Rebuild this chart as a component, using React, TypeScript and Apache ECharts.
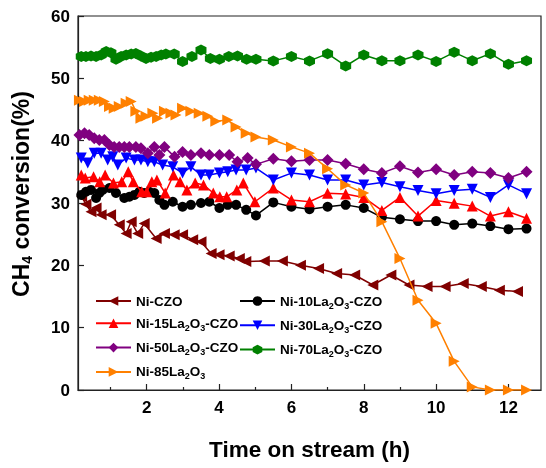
import React, { useEffect, useRef } from "react";
import * as echarts from "echarts";

const xTickLabels = [2, 4, 6, 8, 10, 12];
const xMinorTicks = [1, 3, 5, 7, 9, 11];

const seriesNames = [
  "Ni-CZO",
  "Ni-10La2O3-CZO",
  "Ni-15La2O3-CZO",
  "Ni-30La2O3-CZO",
  "Ni-50La2O3-CZO",
  "Ni-70La2O3-CZO",
  "Ni-85La2O3",
];

const late = [5.5, 6.0, 6.5, 7.0, 7.5, 8.0, 8.5, 9.0, 9.5, 10.0, 10.5, 11.0, 11.5, 12.0, 12.5];

const niCzoTime = [0.2, 0.32, 0.46, 0.6, 0.74, 1.0, 1.24, 1.43, 1.57, 1.75, 1.93, 2.26, 2.49, 2.76, 2.99, 3.27, 3.5, 3.78, 4.0, 4.28, 4.56, 4.74, 5.25, 5.75, 6.25, 6.75, 7.25, 7.75, 8.25, 8.75, 9.25, 9.75, 10.25, 10.75, 11.25, 11.75, 12.25];
const niCzoConv = [31.0, 29.8, 28.6, 29.2, 28.1, 28.1, 26.5, 25.1, 27.0, 25.1, 26.7, 24.3, 25.1, 24.9, 24.9, 24.1, 23.8, 21.9, 21.7, 21.5, 21.1, 20.6, 20.7, 20.7, 20.0, 19.5, 18.7, 18.45, 16.85, 18.45, 16.85, 16.6, 16.6, 17.1, 16.6, 16.0, 15.8];

const ni10Time = [0.19, 0.32, 0.46, 0.6, 0.69, 0.78, 0.97, 1.15, 1.38, 1.52, 1.66, 1.8, 1.93, 2.07, 2.21, 2.35, 2.49, 2.72, 2.99, 3.22, 3.5, 3.73, 4.01, 4.24, 4.47, 4.75, 5.02, ...late];
const ni10Conv = [31.3, 31.8, 32.1, 30.8, 31.6, 32.1, 32.4, 31.6, 30.8, 31.0, 31.3, 31.8, 31.6, 31.8, 31.6, 30.5, 29.7, 30.2, 29.4, 29.7, 30.0, 30.2, 29.2, 29.7, 29.7, 28.9, 28.0, 30.1, 29.4, 29.0, 29.4, 29.7, 29.2, 27.7, 27.4, 27.1, 27.1, 26.5, 26.7, 26.3, 25.8, 25.9];

const ni15Time = [0.19, 0.3, 0.53, 0.7, 0.85, 1.08, 1.31, 1.49, 1.63, 1.86, 2.0, 2.14, 2.28, 2.51, 2.74, 2.92, 3.11, 3.34, 3.57, 3.84, 4.02, 4.21, 4.49, 4.67, 4.99, ...late];
const ni15Conv = [34.5, 34.0, 34.2, 33.4, 34.5, 33.2, 33.4, 35.0, 33.4, 31.8, 31.8, 33.4, 33.7, 31.6, 34.5, 33.4, 32.1, 33.2, 32.9, 31.6, 31.0, 31.0, 32.1, 33.2, 30.2, 32.4, 30.5, 30.2, 31.55, 31.45, 30.9, 28.8, 30.9, 27.9, 30.4, 29.95, 29.5, 27.9, 28.6, 27.55];

const ni30Time = [0.19, 0.37, 0.55, 0.74, 0.92, 1.06, 1.2, 1.43, 1.66, 1.84, 2.03, 2.21, 2.44, 2.72, 2.99, 3.22, 3.5, 3.73, 4.01, 4.24, 4.47, 4.75, 5.02, ...late];
const ni30Conv = [37.2, 36.4, 38.0, 38.0, 36.9, 37.4, 36.1, 37.2, 36.9, 36.9, 36.6, 36.6, 36.1, 35.8, 34.8, 35.8, 34.5, 34.5, 34.8, 35.0, 35.3, 35.3, 35.6, 33.7, 34.8, 34.5, 33.7, 33.7, 32.9, 33.3, 32.6, 32.0, 31.5, 32.0, 32.2, 30.9, 32.9, 31.5];

const ni50Time = [0.14, 0.28, 0.41, 0.55, 0.69, 0.83, 0.97, 1.1, 1.24, 1.38, 1.52, 1.7, 1.84, 2.03, 2.21, 2.35, 2.49, 2.77, 2.99, 3.22, 3.5, 3.73, 4.01, 4.28, 4.51, 4.79, 5.02, ...late];
const ni50Conv = [40.9, 41.2, 40.9, 40.4, 40.1, 40.1, 39.3, 39.0, 39.0, 39.0, 39.0, 39.0, 38.8, 38.0, 39.0, 37.7, 39.0, 37.4, 38.2, 37.7, 38.0, 37.7, 37.7, 37.7, 36.6, 37.2, 36.2, 37.1, 36.7, 36.9, 36.9, 36.3, 35.4, 34.8, 35.9, 34.9, 35.4, 34.5, 35.0, 34.8, 34.0, 35.0];

const ni70Time = [0.19, 0.32, 0.46, 0.6, 0.74, 0.88, 1.01, 1.15, 1.29, 1.43, 1.57, 1.7, 1.84, 1.98, 2.12, 2.26, 2.4, 2.53, 2.76, 2.99, 3.25, 3.5, 3.76, 4.01, 4.27, 4.51, 4.76, 5.02, ...late];
const ni70Conv = [53.5, 53.5, 53.6, 53.5, 53.75, 54.3, 54.1, 53.05, 53.5, 53.75, 53.9, 54.0, 53.6, 53.2, 53.4, 53.5, 53.75, 53.9, 53.9, 52.7, 53.5, 54.55, 53.2, 53.05, 53.5, 53.6, 53.05, 53.05, 52.8, 53.5, 52.8, 53.96, 51.98, 53.75, 52.83, 52.83, 53.75, 52.72, 54.17, 52.83, 53.96, 52.25, 52.83];

const ni85Time = [0.14, 0.28, 0.41, 0.55, 0.69, 0.83, 0.97, 1.1, 1.24, 1.43, 1.57, 1.7, 1.84, 1.98, 2.17, 2.3, 2.49, 2.67, 2.81, 2.99, 3.22, 3.45, 3.69, 3.91, 4.24, 4.47, 4.75, 5.02, ...late];
const ni85Conv = [46.5, 46.3, 46.5, 46.5, 46.5, 46.3, 45.5, 45.2, 45.5, 46.0, 46.3, 44.7, 43.6, 43.9, 44.4, 43.6, 44.7, 44.4, 44.1, 45.2, 44.7, 44.4, 43.9, 43.1, 43.3, 42.2, 41.2, 40.6, 40.1, 39.0, 38.0, 35.5, 32.9, 31.6, 27.0, 21.1, 14.4, 10.7, 4.6, 0.5, 0, 0, 0];

const seriesTimes = [niCzoTime, ni10Time, ni15Time, ni30Time, ni50Time, ni70Time, ni85Time];
const seriesValues = [niCzoConv, ni10Conv, ni15Conv, ni30Conv, ni50Conv, ni70Conv, ni85Conv];

const FONT = 'Arial, "Liberation Sans", sans-serif';
const HEX = "path://M0,-1 L0.866,-0.5 L0.866,0.5 L0,1 L-0.866,0.5 L-0.866,-0.5 Z";

const styles = [
  { color: "#800000", symbol: "triangle", rotate: 90, size: 11 },
  { color: "#000000", symbol: "circle", rotate: 0, size: 10 },
  { color: "#FF0000", symbol: "triangle", rotate: 0, size: 11 },
  { color: "#0000FF", symbol: "triangle", rotate: 180, size: 11 },
  { color: "#800080", symbol: "diamond", rotate: 0, size: 12 },
  { color: "#008000", symbol: HEX, rotate: 0, size: 11 },
  { color: "#FF8000", symbol: "triangle", rotate: -90, size: 11 },
];

const fmtName = (n: string) => n.replace("La2O3", "La{s|2}O{s|3}");

const legendText = {
  fontSize: 13.5,
  fontWeight: "bold" as const,
  fontFamily: FONT,
  color: "#000",
  rich: {
    s: { fontSize: 9, fontWeight: "bold" as const, fontFamily: FONT, color: "#000", padding: [9, 0, 0, 0] },
  },
};

export default function App() {
  const ref = useRef<HTMLDivElement>(null);
  useEffect(() => {
    if (!ref.current) return;
    const chart = echarts.init(ref.current, undefined, { renderer: "svg" });
    const series = seriesNames.map((name, i) => ({
      name,
      type: "line",
      data: seriesTimes[i].map((t, j) => [t, seriesValues[i][j]]),
      symbol: styles[i].symbol,
      symbolSize: styles[i].size,
      symbolRotate: styles[i].rotate,
      showAllSymbol: true,
      lineStyle: { color: styles[i].color, width: 1.5 },
      itemStyle: { color: styles[i].color },
      emphasis: { disabled: true },
      z: 2 + i,
    }));
    const legendBase = {
      orient: "vertical",
      top: 294,
      padding: 0,
      itemWidth: 35,
      itemHeight: 12,
      itemGap: 8.3,
      formatter: fmtName,
      textStyle: legendText,
    };
    chart.setOption({
      animation: false,
      grid: { left: 78, right: 5, top: 16, bottom: 78, show: true, borderColor: "#222", borderWidth: 1.2 },
      legend: [
        { ...legendBase, data: [seriesNames[0], seriesNames[2], seriesNames[4], seriesNames[6]], left: 95 },
        { ...legendBase, data: [seriesNames[1], seriesNames[3], seriesNames[5]], left: 239 },
      ],
      xAxis: [
        {
          type: "value",
          min: 0.1,
          max: 12.9,
          name: "Time on stream (h)",
          nameLocation: "middle",
          nameGap: 48,
          nameTextStyle: { fontSize: 22.5, fontWeight: "bold", fontFamily: FONT, color: "#000" },
          axisLine: { show: true, lineStyle: { color: "#222", width: 1.2 } },
          axisTick: { show: true, inside: true, length: 6, customValues: xTickLabels, lineStyle: { color: "#222", width: 1.2 } },
          axisLabel: { customValues: xTickLabels, fontSize: 17, fontWeight: "bold", fontFamily: FONT, color: "#000", margin: 9 },
          splitLine: { show: false },
        },
        {
          type: "value",
          min: 0.1,
          max: 12.9,
          position: "bottom",
          axisLine: { show: false },
          axisTick: { show: true, inside: true, length: 3, customValues: xMinorTicks, lineStyle: { color: "#222", width: 1.2 } },
          axisLabel: { show: false },
          splitLine: { show: false },
        },
      ],
      yAxis: {
        type: "value",
        min: 0,
        max: 60,
        interval: 10,
        name: "CH{s|4} conversion(%)",
        nameLocation: "middle",
        nameGap: 44,
        nameTextStyle: {
          fontSize: 23,
          fontWeight: "bold",
          fontFamily: FONT,
          color: "#000",
          padding: [0, 0, 0, 18],
          rich: { s: { fontSize: 14, fontWeight: "bold", fontFamily: FONT, color: "#000", padding: [12, 0, 0, 0] } },
        },
        axisLine: { show: true, lineStyle: { color: "#222", width: 1.2 } },
        axisTick: { show: true, inside: true, length: 6, lineStyle: { color: "#222", width: 1.2 } },
        axisLabel: { fontSize: 17, fontWeight: "bold", fontFamily: FONT, color: "#000", margin: 8 },
        splitLine: { show: false },
      },
      series,
    });
    return () => chart.dispose();
  }, []);
  return <div ref={ref} style={{ position: "fixed", left: 0, top: 0, width: 546, height: 468 }} />;
}
